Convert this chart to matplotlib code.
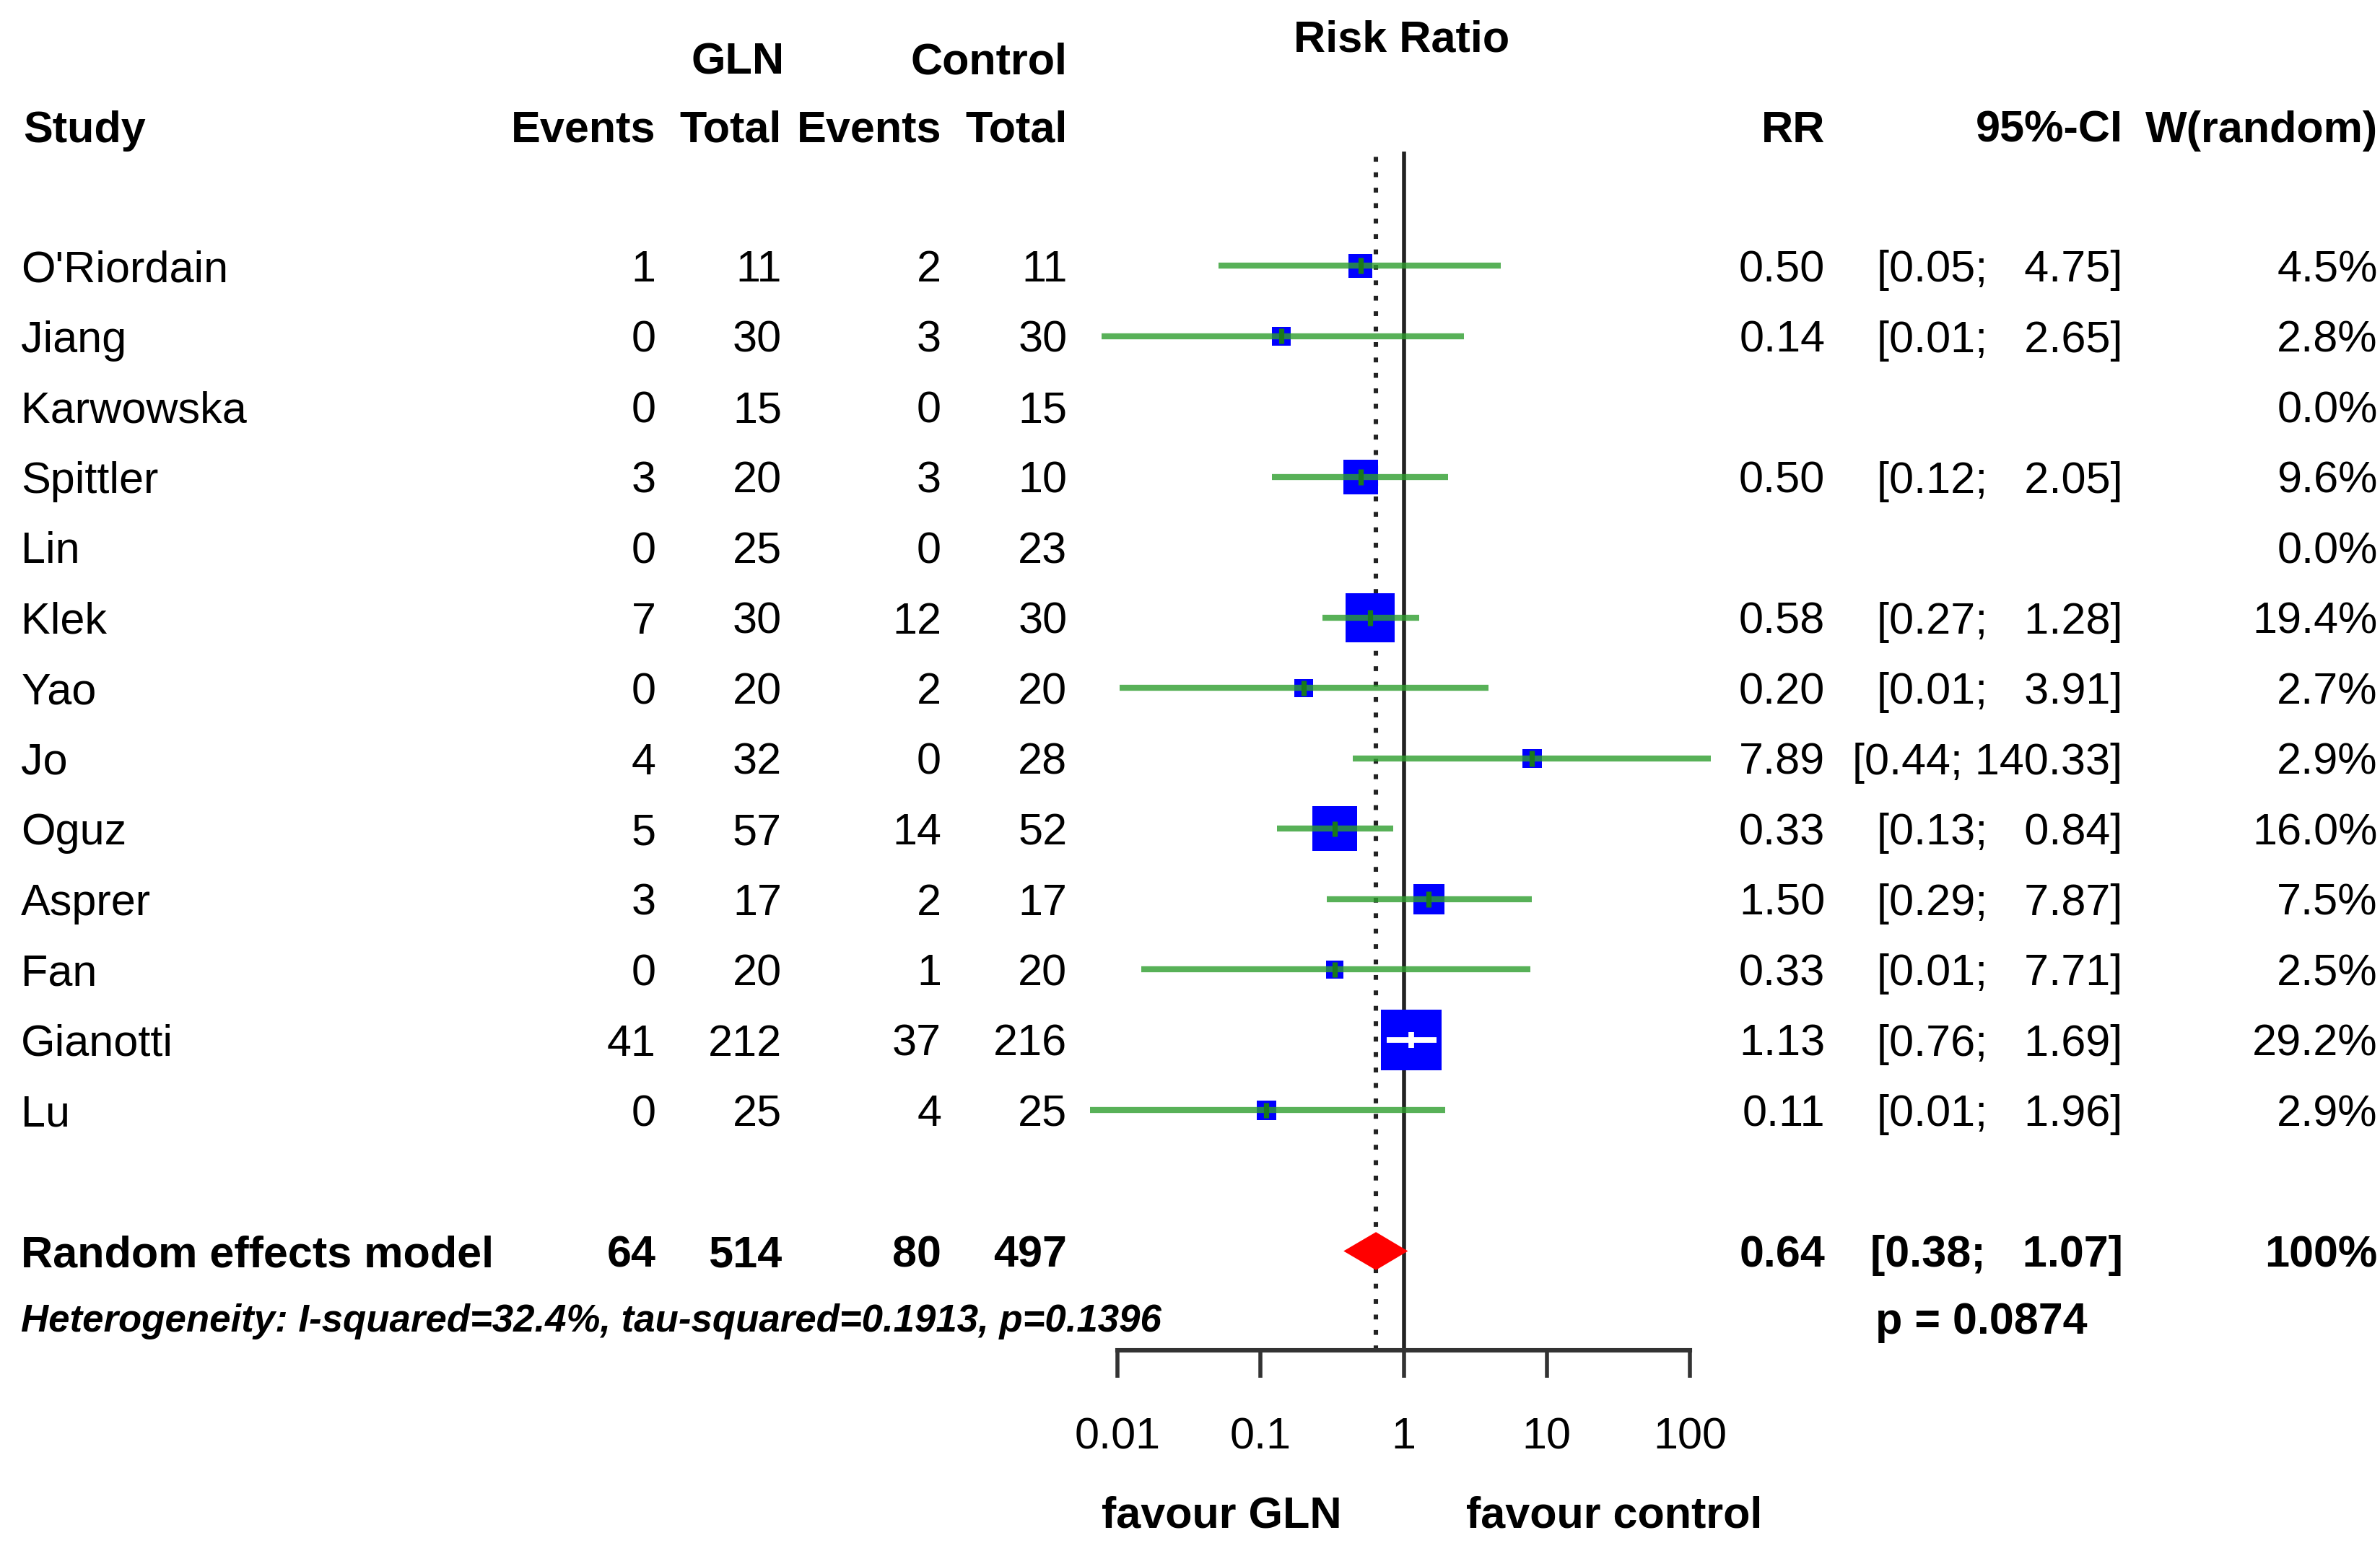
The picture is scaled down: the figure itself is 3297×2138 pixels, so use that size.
import numpy as np
import matplotlib
matplotlib.use("Agg")
import matplotlib.pyplot as plt
from matplotlib.transforms import blended_transform_factory

plt.rcParams['font.family'] = ['Liberation Sans', 'DejaVu Sans']

# data
studies = ["O'Riordain", "Jiang", "Karwowska", "Spittler", "Lin", "Klek", "Yao",
           "Jo", "Oguz", "Asprer", "Fan", "Gianotti", "Lu"]
gln_events = [1, 0, 0, 3, 0, 7, 0, 4, 5, 3, 0, 41, 0]
gln_total = [11, 30, 15, 20, 25, 30, 20, 32, 57, 17, 20, 212, 25]
ctl_events = [2, 3, 0, 3, 0, 12, 2, 0, 14, 2, 1, 37, 4]
ctl_total = [11, 30, 15, 10, 23, 30, 20, 28, 52, 17, 20, 216, 25]
rr = [0.50, 0.14, np.nan, 0.50, np.nan, 0.58, 0.20, 7.89, 0.33, 1.50, 0.33, 1.13, 0.11]
ci_lo = [0.0508, 0.0077, np.nan, 0.12, np.nan, 0.27, 0.0104, 0.44, 0.13, 0.29, 0.0146, 0.76, 0.0064]
ci_hi = [4.75, 2.65, np.nan, 2.05, np.nan, 1.28, 3.91, 140.33, 0.84, 7.87, 7.71, 1.69, 1.96]
weight = [4.5, 2.8, 0.0, 9.6, 0.0, 19.4, 2.7, 2.9, 16.0, 7.5, 2.5, 29.2, 2.9]

re_rr, re_lo, re_hi = 0.64, 0.38, 1.07
re_p = 0.0874
het_text = "Heterogeneity: I-squared=32.4%, tau-squared=0.1913, p=0.1396"
xticks = [0.01, 0.1, 1, 10, 100]
xtick_labels = ["0.01", "0.1", "1", "10", "100"]

rows = np.arange(len(studies))
y_sum = len(studies) + 1
y_het = y_sum + 0.95

fig = plt.figure(figsize=(16.49, 10.69), dpi=200)
ax = fig.add_axes([0.46939, 0.12488, 0.24043, 0.77679])
ax.set_xscale('log')
ax.set_xlim(0.01, 100)
ax.set_ylim(15.41, -1.62)
for s in ['top', 'left', 'right']:
    ax.spines[s].set_visible(False)
ax.spines['bottom'].set_linewidth(2.2)
ax.spines['bottom'].set_color('#333333')
ax.set_yticks([])
ax.set_xticks(xticks)
ax.set_xticklabels(xtick_labels)
ax.minorticks_off()
ax.tick_params(axis='x', length=13.7, width=2.0, color='#333333', labelsize=22, pad=19.5)

# reference lines
ax.axvline(1, color='#222222', lw=2.0, zorder=1)
ax.axvline(re_rr, color='#222222', lw=2.2, ls=(0, (1.1, 2.4)), zorder=1)

# study squares and CIs
w = np.array(weight)
sq = 31 * w
pt_per_dec = 0.24043 * 16.49 * 72 / 4
for i in rows:
    if np.isnan(rr[i]):
        continue
    ax.scatter(rr[i], i, s=sq[i], marker='s', color='#0000FF', edgecolors='none', zorder=3)
    half = np.sqrt(sq[i]) / 2 / pt_per_dec
    inside = (np.log10(rr[i]) - np.log10(ci_lo[i]) < half) and (np.log10(ci_hi[i]) - np.log10(rr[i]) < half)
    if inside:
        ax.plot([ci_lo[i], ci_hi[i]], [i, i], color='white', lw=2.8, zorder=4, solid_capstyle='butt')
        ax.vlines(rr[i], i - 0.11, i + 0.11, color='white', lw=2.8, zorder=4)
    else:
        ax.plot([ci_lo[i], ci_hi[i]], [i, i], color='#2E9E2E', alpha=0.8, lw=3.0, zorder=4,
                solid_capstyle='butt', clip_on=False)
        ax.vlines(rr[i], i - 0.11, i + 0.11, color='#1A7A1A', lw=2.6, zorder=4)

# summary diamond
h = 0.27
ax.fill([re_lo, re_rr, re_hi, re_rr], [y_sum, y_sum - h, y_sum, y_sum + h],
        color='#FF0000', lw=0, zorder=5, clip_on=False)

tr = blended_transform_factory(fig.transFigure, ax.transData)
rows_per_pt = 17.03 / (0.77679 * 10.69 * 72)
fs = 22


def put(x, y, s, ha='right', size=fs, **kw):
    off = 0.358 * size * rows_per_pt
    ax.text(x, y + off, s, transform=tr, ha=ha, va='baseline', fontsize=size, clip_on=False, **kw)


# columns (figure fraction)
x_name = 0.0089
x_ge, x_gt, x_ce, x_ct = 0.2755, 0.3284, 0.3954, 0.4483
x_rr, x_ci, x_w = 0.7666, 0.8916, 0.9987

# headers
put(x_name + 0.001, -1.98, "Study", ha='left', fontweight='bold')
put(x_ge, -1.98, "Events", fontweight='bold')
put(x_gt, -1.98, "Total", fontweight='bold')
put(x_ce, -1.98, "Events", fontweight='bold')
put(x_ct, -1.98, "Total", fontweight='bold')
put(x_gt + 0.001, -2.95, "GLN", fontweight='bold')
put(x_ct, -2.95, "Control", fontweight='bold')
put(0.5887, -3.27, "Risk Ratio", ha='center', fontweight='bold')
put(x_rr, -1.98, "RR", fontweight='bold')
put(x_ci, -1.98, "95%-CI", fontweight='bold')
put(x_w, -1.98, "W(random)", fontweight='bold')

# study rows
for i in rows:
    put(x_name, i, studies[i], ha='left')
    put(x_ge, i, str(gln_events[i]))
    put(x_gt, i, str(gln_total[i]))
    put(x_ce, i, str(ctl_events[i]))
    put(x_ct, i, str(ctl_total[i]))
    if not np.isnan(rr[i]):
        put(x_rr, i, f"{rr[i]:.2f}")
        put(x_ci, i, f"[{ci_lo[i]:.2f}; {ci_hi[i]:6.2f}]")
    put(x_w, i, f"{weight[i]:.1f}%")

# summary row
put(x_name, y_sum, "Random effects model", ha='left', fontweight='bold')
put(x_ge, y_sum, str(sum(gln_events)), fontweight='bold')
put(x_gt, y_sum, str(sum(gln_total)), fontweight='bold')
put(x_ce, y_sum, str(sum(ctl_events)), fontweight='bold')
put(x_ct, y_sum, str(sum(ctl_total)), fontweight='bold')
put(x_rr, y_sum, f"{re_rr:.2f}", fontweight='bold')
put(x_ci, y_sum, f"[{re_lo:.2f}; {re_hi:6.2f}]", fontweight='bold')
put(x_w, y_sum, "100%", fontweight='bold')

put(x_name, y_het, het_text, ha='left', size=19, fontweight='bold', fontstyle='italic')
put(0.7876, y_het, f"p = {re_p:.4f}", ha='left', fontweight='bold')

# favour labels
for lab, dx, ha in [("favour GLN", -31, 'right'), ("favour control", 31, 'left')]:
    ax.annotate(lab, xy=(1, 17.7 + 0.358 * fs * rows_per_pt), xytext=(dx, 0),
                textcoords='offset points', ha=ha, va='baseline', fontsize=fs,
                fontweight='bold', annotation_clip=False)

fig.savefig("out.png", dpi=200, facecolor='white')
